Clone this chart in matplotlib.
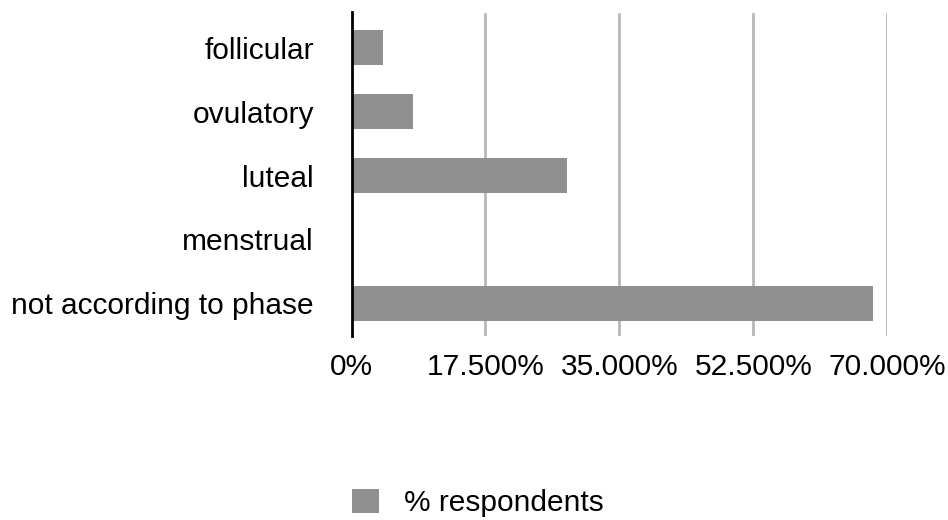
import matplotlib
matplotlib.use("Agg")
import matplotlib.pyplot as plt
from matplotlib.patches import Patch

categories = ["follicular", "ovulatory", "luteal", "menstrual", "not according to phase"]
values = [4.1, 8.0, 28.2, 0.0, 68.1]
ticks = [0, 17.5, 35, 52.5, 70]
tick_labels = ["0%", "17.500%", "35.000%", "52.500%", "70.000%"]
series_name = "% respondents"

plt.rcParams["font.family"] = ["Liberation Sans", "DejaVu Sans"]
FS = 21.5

W, H = 948, 520
fig = plt.figure(figsize=(W / 100, H / 100), dpi=100)
left, right, top, bottom = 351.5, 887.3, 12, 336
ax = fig.add_axes([left / W, 1 - bottom / H, (right - left) / W, (bottom - top) / H])

bar_color = "#8f8f8f"
y = list(range(len(categories)))
ax.barh(y, values, height=0.55, color=bar_color, zorder=2)

ax.set_xlim(0, 70)
ax.set_ylim(4.508, -0.555)
ax.set_yticks(y)
ax.set_yticklabels(categories, fontsize=FS)
ax.set_xticks(ticks)
ax.set_xticklabels(tick_labels, fontsize=FS)

for t in ticks[1:]:
    ax.axvline(t, ymin=0, ymax=(bottom - 14) / (bottom - top), color="#b8b8b8", lw=2, zorder=1)

for s in ["top", "right", "bottom"]:
    ax.spines[s].set_visible(False)
ax.spines["left"].set_linewidth(2)
ax.spines["left"].set_color("black")
ax.spines["left"].set_zorder(3)
ax.tick_params(axis="y", length=0, pad=27)
ax.tick_params(axis="x", length=0, pad=12)

handle = Patch(facecolor=bar_color, edgecolor="none")
fig.legend([handle], [series_name], loc="center left", bbox_to_anchor=(325 / W, 1 - 503 / H),
           frameon=False, fontsize=FS, handlelength=0.9, handleheight=0.9, handletextpad=0.84)

fig.savefig("out.png", dpi=100)
